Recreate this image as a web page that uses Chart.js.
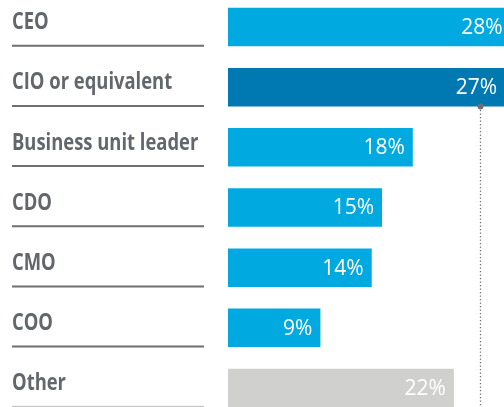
<!DOCTYPE html>
<html><head><meta charset="utf-8">
<script src="https://cdn.jsdelivr.net/npm/chart.js@4.4.0/dist/chart.umd.min.js"></script>
<style>
html,body{margin:0;padding:0;background:#fff;overflow:hidden;width:504px;height:407px;}
#wrap{position:absolute;left:0;top:-3px;width:536px;height:421px;}
</style></head><body>
<div id="wrap"><canvas id="c"></canvas></div>
<script>
const categories = ['CEO', 'CIO or equivalent', 'Business unit leader', 'CDO', 'CMO', 'COO', 'Other'];
const values = [28, 27, 18, 15, 14, 9, 22];
const valueLabels = ['28%', '27%', '18%', '15%', '14%', '9%', '22%'];
const barColors = ['#00a9e0', '#0079b3', '#00a9e0', '#00a9e0', '#00a9e0', '#00a9e0', '#d0d0ce'];
const underlineColors = ['#6d6f72', '#6d6f72', '#6d6f72', '#6d6f72', '#6d6f72', '#6d6f72', '#c8c9cb'];
const markerValue = 24.5;
const markerCategory = 'CIO or equivalent';
const xMax = 30;

const LABEL_X = 12, LINE_END = 204, CONDENSE = 0.8, VIEW_W = 504;

const overlay = {
  id: 'overlay',
  afterDatasetsDraw(chart) {
    const ctx = chart.ctx;
    const meta = chart.getDatasetMeta(0);
    const xs = chart.scales.x;
    ctx.save();
    meta.data.forEach((bar, i) => {
      const bottom = bar.y + bar.height / 2;
      // value label (kept inside the visible window)
      ctx.fillStyle = '#ffffff';
      ctx.font = '21px "Open Sans"';
      ctx.textAlign = 'right';
      ctx.textBaseline = 'middle';
      ctx.fillText(valueLabels[i], Math.min(bar.x - 8, VIEW_W - 1.5), bar.y + 1);
      // category label
      ctx.save();
      ctx.fillStyle = '#63666a';
      ctx.font = 'bold 23px "Open Sans"';
      ctx.textAlign = 'left';
      ctx.textBaseline = 'alphabetic';
      ctx.translate(LABEL_X, bottom - 17);
      ctx.scale(CONDENSE, 1);
      ctx.fillText(categories[i], 0, 0);
      ctx.restore();
      // underline
      ctx.strokeStyle = underlineColors[i];
      ctx.lineWidth = 2;
      ctx.beginPath();
      ctx.moveTo(LABEL_X, bottom - 0.5);
      ctx.lineTo(LINE_END, bottom - 0.5);
      ctx.stroke();
    });
    // marker
    const mi = categories.indexOf(markerCategory);
    const mb = meta.data[mi];
    const mx = Math.round(xs.getPixelForValue(markerValue)) + 0.5;
    const my = mb.y + mb.height / 2;
    ctx.strokeStyle = '#6d6f72';
    ctx.lineWidth = 1.3;
    ctx.setLineDash([1.3, 2.2]);
    ctx.beginPath();
    ctx.moveTo(mx, my);
    ctx.lineTo(mx, chart.height);
    ctx.stroke();
    ctx.setLineDash([]);
    ctx.fillStyle = '#6d6f72';
    ctx.beginPath();
    ctx.arc(mx, my, 3, 0, Math.PI * 2);
    ctx.fill();
    ctx.restore();
  }
};

new Chart(document.getElementById('c'), {
  type: 'bar',
  data: {
    labels: categories,
    datasets: [{
      data: values,
      backgroundColor: barColors,
      borderWidth: 0,
      barPercentage: 0.64,
      categoryPercentage: 1.0
    }]
  },
  options: {
    indexAxis: 'y',
    responsive: true,
    maintainAspectRatio: false,
    animation: false,
    layout: { padding: { left: 228, right: 0, top: 0, bottom: 0 } },
    plugins: { legend: { display: false }, tooltip: { enabled: false } },
    scales: {
      x: { min: 0, max: xMax, display: false },
      y: { display: false }
    }
  },
  plugins: [overlay]
});
</script>
</body></html>
